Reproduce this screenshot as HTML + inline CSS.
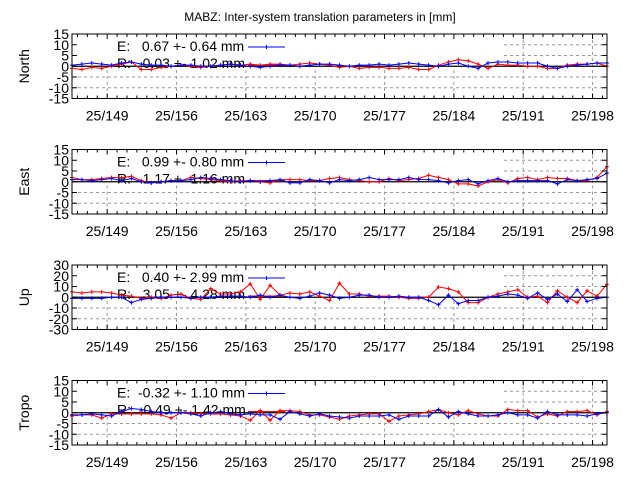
<!DOCTYPE html>
<html><head><meta charset="utf-8"><style>
body{margin:0;background:#fff;}
svg{display:block;font-family:"Liberation Sans",Arial,sans-serif;}
</style></head><body>
<svg id="chart" width="640" height="480" viewBox="0 0 640 480" xmlns="http://www.w3.org/2000/svg">
<text x="320" y="21" text-anchor="middle" font-size="12">MABZ: Inter-system translation parameters in [mm]</text>
</svg>
<script>
const panelNames = ["North","East","Up","Tropo"];
const panelRanges = [15,15,30,15];
const panelSteps = [5,5,10,5];
const xTickDays = [149,156,163,170,177,184,191,198];
const xTickLabels = ["25/149","25/156","25/163","25/170","25/177","25/184","25/191","25/198"];
const dayStart = 145.45;
const eLegend = ["E:   0.67 +- 0.64 mm","E:   0.99 +- 0.80 mm","E:   0.40 +- 2.99 mm","E:  -0.32 +- 1.10 mm"];
const rLegend = ["R:   0.03 +- 1.02 mm","R:   1.17 +- 1.16 mm","R:   3.05 +- 4.28 mm","R:  -0.49 +- 1.42 mm"];
const northE = [0.5,1,1.5,1,0.5,1.5,2,1,0.5,0.5,0,0.5,0.5,0,0,0.5,1,0.5,0,-0.5,0,0.5,0.5,0,0.5,1,1,0.5,0,0.5,0.5,1,0.5,1,1.5,1,0.5,0,1,1.5,0,-1,1.5,2,2,1.5,1.5,1.5,0,-1,0,0.5,1,1.5,1.5];
const northR = [-1,-1.5,-0.5,-1,0,1,2,-1.5,-1.5,-0.5,0,0.5,0,-0.5,0,0.5,1,0.5,1,0.5,1,1,0.5,1,1.5,1,0.5,-0.5,0,-1,-0.5,-0.5,-1,-1,-0.5,-1.5,-1.5,0.5,2,3,2.5,1,-1,1,0.5,0.5,0,0,-1,-1,0.5,1,1,1.5,0];
const eastE = [1,1,0.5,1,1.5,0.5,1.5,0,-0.5,0,0.5,0.5,1,2,1.5,1,0.5,0,0.5,0,0.5,1,-0.5,-0.5,1,0.5,-0.5,1,0.5,1,2,1,1,1,2,1,1,0.5,-0.5,0.5,1,-1,0.5,1.5,0,0.5,0.5,0.5,0.5,-1,1,0.5,1,1.5,4];
const eastR = [2,1,1,1.5,2,2,2.5,0.5,-0.5,0,0.5,0.5,2,1.5,1,0.5,0,0.5,0.5,0,-0.5,1,1,1,0.5,0.5,1.5,2,1,0.5,0,0,1.5,0.5,1,1.5,3,2,1,-1,-1,-2,0,1,-0.5,1.5,2,1,2,1.5,1.5,0.5,0.5,2,7];
const upE = [-1,-1,-1,-1,0,0,-5,-2,-1,0,0,0,-1,0,0,1,1,1,0,2,0,2,0,-1,1,4,2,-1,0,2,2,0,0,1,0,0,-3,-7,2,-6,-3,-3,0,1,3,2,-1,4,-2,3,-4,7,-4,-1,0];
const upR = [5,4,5,5,4,2,1,-1,0,-1,2,3,-1,-2,8,3,3,5,12.5,-2,11,2,4,3,5,1,-3,13,3,3,1,1,1,0,-1,-1,0,9.5,8,5,-5,-5,0,3,5,7,0,1,-5,6,0,-5,6,1,12];
const tropoE = [-1,-1,-0.5,-1,-1.5,0.5,2,1.5,0.5,0,0,0,-0.5,-1.5,0,0.5,-0.5,-1,-0.5,-1,-1,-3,0.5,-0.5,-1.5,-0.5,-1.5,-2,-2.5,-1.5,-1.5,-1.5,-1,-3,-1.5,-1.5,-1.5,1.5,-2,0.5,-0.5,-1.5,-1.5,-1,0,-1,-1,-2.5,0.5,-1,-1,-1,-1.5,-0.5,0];
const tropoR = [-1.5,-1,-1,-2.5,-0.5,-0.5,-0.5,-0.5,-0.5,-1,-2.5,0,0,-0.5,-0.5,-0.5,-1,-1.5,-3.5,1,-3.5,1,1,0.5,-1,-1,-2,-3,-1.5,-1,-0.5,-0.5,-4,-1.5,-1,-0.5,0.5,1.5,0,-1,1,-0.5,-1.5,-1.5,1.5,1,1,-2,-0.5,-1.5,0.5,0.5,1,-1,0.5];
const seriesE = [northE,eastE,upE,tropoE];
const seriesR = [northR,eastR,upR,tropoR];

const svg = document.getElementById('chart');
const NS = 'http://www.w3.org/2000/svg';
const L = 72, R = 607, H = 64.5, tops = [34,149.5,265,380.5];
const pxPerDay = 9.906;
function mk(tag, attrs, parent){const e=document.createElementNS(NS,tag);for(const k in attrs)e.setAttribute(k,attrs[k]);(parent||svg).appendChild(e);return e;}
function xs(d){return L+(d-dayStart)*pxPerDay;}
for(let p=0;p<4;p++){
  const top=tops[p], rng=panelRanges[p];
  const ys=v=>top+H/2-v*(H/2)/rng;
  const g=mk('g',{});
  
  
  for(const d of xTickDays){const l=mk('line',{x1:xs(d),x2:xs(d),y1:top,y2:top+H,stroke:'#999','stroke-dasharray':'3,3','stroke-width':1},g);
    }
  for(let v=-rng+panelSteps[p];v<rng;v+=panelSteps[p]){if(v===0)continue;const l=mk('line',{x1:L,x2:R,y1:ys(v),y2:ys(v),stroke:'#999','stroke-dasharray':'3,3','stroke-width':1},g);
    }
  const box=mk('rect',{x:L,y:top,width:432,height:H/2,fill:'#fff'},g);
  
  const te=mk('text',{x:117,y:top+17,'font-size':14},g);te.textContent=eLegend[p];
  
  te.style.whiteSpace='pre';
  const tr=mk('text',{x:117,y:top+34,'font-size':14},g);tr.textContent=rLegend[p];tr.style.whiteSpace='pre';
  
  const ls=mk('line',{x1:248,x2:285,y1:top+13,y2:top+13,stroke:'#00f'},g);
  
  mk('line',{x1:266.5,x2:266.5,y1:top+11,y2:top+15,stroke:'#00f'},g);
  const lr=mk('line',{x1:248,x2:285,y1:top+31,y2:top+31,stroke:'#f00'},g);
  
  const z=mk('line',{x1:L,x2:R,y1:ys(0),y2:ys(0),stroke:'#000','stroke-width':1.2},g);
  
  [[seriesR[p],'#f00','r-series'],[seriesE[p],'#00f','e-series']].forEach(([arr,col,nm])=>{
    const pts=arr.map((v,i)=>[xs(dayStart+i),ys(v)]);
    const pl=mk('polyline',{points:pts.map(q=>q.join(',')).join(' '),fill:'none',stroke:col,'stroke-width':1},g);
    
    pts.forEach(q=>{const m=mk('path',{d:`M${q[0]-2},${q[1]}h4M${q[0]},${q[1]-2}v4`,stroke:col,'stroke-width':1},g);
      });
  });
  const fr=mk('rect',{x:L,y:top,width:R-L,height:H,fill:'none',stroke:'#000','stroke-width':1},g);
  
  for(let d=Math.ceil(dayStart);xs(d)<R;d++){const x=xs(d);const mj=xTickDays.includes(d)?5:3;
    mk('line',{x1:x,x2:x,y1:top+H,y2:top+H-mj,stroke:'#000'},g);mk('line',{x1:x,x2:x,y1:top,y2:top+mj,stroke:'#000'},g);}
  xTickDays.forEach((d,i)=>{const t=mk('text',{x:xs(d),y:top+H+22,'text-anchor':'middle','font-size':14},g);t.textContent=xTickLabels[i];
    });
  for(let v=-rng;v<=rng;v+=panelSteps[p]){const y=ys(v);
    mk('line',{x1:L,x2:L+5,y1:y,y2:y,stroke:'#000'},g);mk('line',{x1:R,x2:R-5,y1:y,y2:y,stroke:'#000'},g);
    const t=mk('text',{x:69,y:y+5,'text-anchor':'end','font-size':14},g);t.textContent=String(v);
    }
  const yt=mk('text',{x:0,y:0,'text-anchor':'middle','font-size':14,transform:`translate(29,${top+H/2}) rotate(-90)`},g);yt.textContent=panelNames[p];
  
}
</script>
</body></html>
